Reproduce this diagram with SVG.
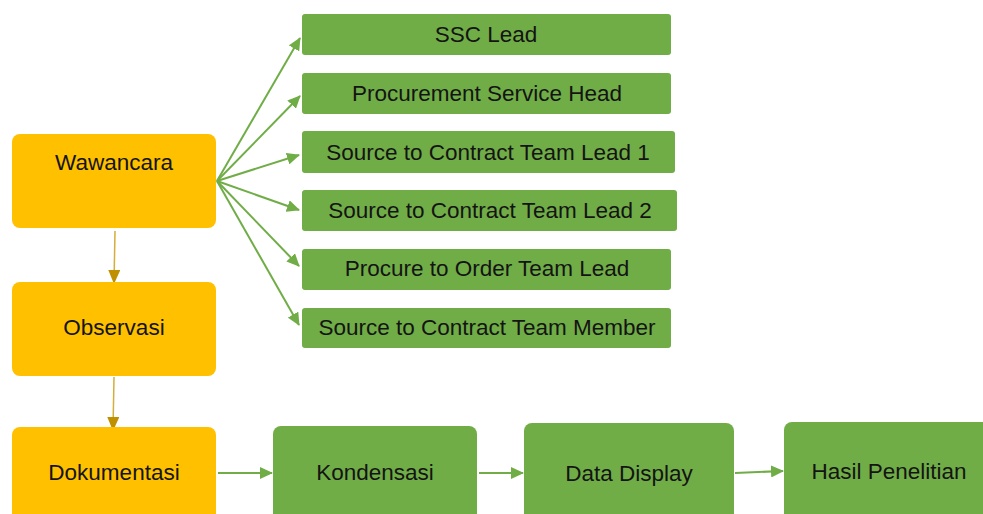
<svg xmlns="http://www.w3.org/2000/svg" width="983" height="514" viewBox="0 0 983 514">
<style>
.o{fill:#FFC000}
.g{fill:#70AD47}
text{font-family:"Liberation Sans",Arial,sans-serif;font-size:22.5px;fill:#141414;text-anchor:middle}
.s{font-size:22.5px}
.cg{stroke:#70AD47;stroke-width:2;fill:none}
.cy{stroke:#D4AE3A;stroke-width:1.5;fill:none}
</style>
<defs>
<marker id="ag" markerWidth="13" markerHeight="12" refX="12" refY="6" orient="auto" markerUnits="userSpaceOnUse"><path d="M0,0 L13,6 L0,12 z" fill="#70AD47"/></marker>
<marker id="ay" markerWidth="14" markerHeight="12" refX="13" refY="6" orient="auto" markerUnits="userSpaceOnUse"><path d="M0,0 L14,6 L0,12 z" fill="#BF9000"/></marker>
</defs>
<g id="connectors">
<line class="cg" x1="217" y1="181" x2="300" y2="38" marker-end="url(#ag)"/>
<line class="cg" x1="217" y1="181" x2="300" y2="96" marker-end="url(#ag)"/>
<line class="cg" x1="217" y1="181" x2="299" y2="155" marker-end="url(#ag)"/>
<line class="cg" x1="217" y1="181" x2="299" y2="210" marker-end="url(#ag)"/>
<line class="cg" x1="217" y1="181" x2="299" y2="266" marker-end="url(#ag)"/>
<line class="cg" x1="217" y1="181" x2="299" y2="325" marker-end="url(#ag)"/>
<line class="cy" x1="115" y1="231" x2="114" y2="283" marker-end="url(#ay)"/>
<line class="cy" x1="114" y1="377" x2="113" y2="430" marker-end="url(#ay)"/>
<line class="cg" x1="218" y1="473" x2="272" y2="473" marker-end="url(#ag)"/>
<line class="cg" x1="479" y1="473" x2="523" y2="473" marker-end="url(#ag)"/>
<line class="cg" x1="735" y1="473" x2="783" y2="471" marker-end="url(#ag)"/>
</g>
<g id="wawancara"><rect class="o" x="12" y="134" width="204" height="94" rx="8"/><text x="114" y="170">Wawancara</text></g>
<g id="observasi"><rect class="o" x="12" y="282" width="204" height="94" rx="8"/><text x="114" y="335">Observasi</text></g>
<g id="dokumentasi"><rect class="o" x="12" y="427" width="204" height="100" rx="8"/><text x="114" y="480">Dokumentasi</text></g>
<g id="kondensasi"><rect class="g" x="273" y="426" width="204" height="100" rx="8"/><text x="375" y="480">Kondensasi</text></g>
<g id="datadisplay"><rect class="g" x="524" y="423" width="210" height="100" rx="8"/><text x="629" y="481">Data Display</text></g>
<g id="hasil"><rect class="g" x="784" y="422" width="210" height="100" rx="8"/><text x="889" y="479">Hasil Penelitian</text></g>
<g id="ssc"><rect class="g" x="302" y="14" width="369" height="41" rx="3"/><text class="s" x="486" y="42">SSC Lead</text></g>
<g id="psh"><rect class="g" x="302" y="73" width="369" height="41" rx="3"/><text class="s" x="487" y="101">Procurement Service Head</text></g>
<g id="stc1"><rect class="g" x="302" y="131" width="373" height="42" rx="3"/><text class="s" x="488" y="160">Source to Contract Team Lead 1</text></g>
<g id="stc2"><rect class="g" x="302" y="190" width="375" height="41" rx="3"/><text class="s" x="490" y="218">Source to Contract Team Lead 2</text></g>
<g id="pto"><rect class="g" x="302" y="249" width="369" height="41" rx="3"/><text class="s" x="487" y="276">Procure to Order Team Lead</text></g>
<g id="stcm"><rect class="g" x="302" y="308" width="369" height="40" rx="3"/><text class="s" x="487" y="335">Source to Contract Team Member</text></g>
</svg>
